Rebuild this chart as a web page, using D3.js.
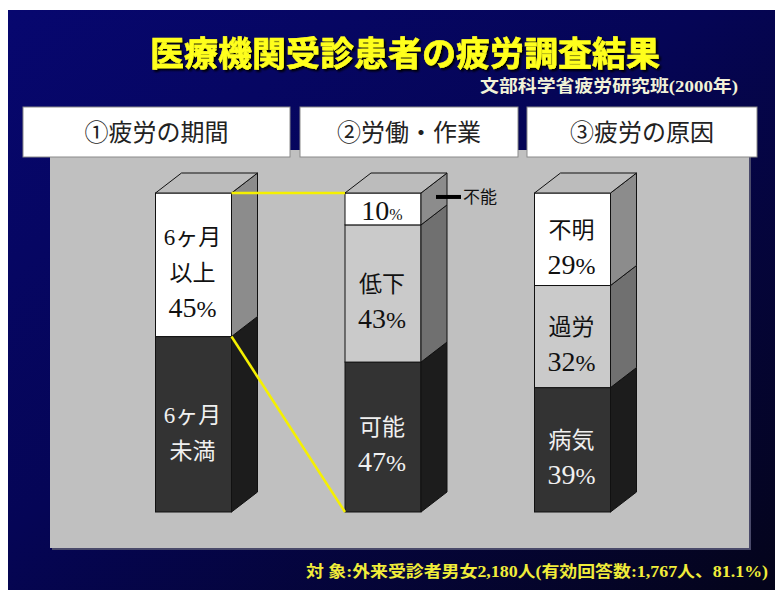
<!DOCTYPE html>
<html>
<head>
<meta charset="utf-8">
<script src="https://cdn.jsdelivr.net/npm/d3@7"></script>
<style>
  body { margin: 0; background: #fff; }
  svg { display: block; }
</style>
</head>
<body>
<div id="chart"></div>
<script>
var svgWidth = 775;
var svgHeight = 590;

// chart data
var categories = ["①疲労の期間", "②労働・作業", "③疲労の原因"];

var periodNames = ["6ヶ月未満", "6ヶ月以上"];
var periodValues = [55, 45];
var periodText = [["6ヶ月", "未満"], ["6ヶ月", "以上", "45%"]];

var workNames = ["可能", "低下", "不能"];
var workValues = [47, 43, 10];
var workText = [["可能", "47%"], ["低下", "43%"], ["10%"]];

var causeNames = ["病気", "過労", "不明"];
var causeValues = [39, 32, 29];
var causeText = [["病気", "39%"], ["過労", "32%"], ["不明", "29%"]];

var titleText = "医療機関受診患者の疲労調査結果";
var sourceText = "文部科学省疲労研究班(2000年)";
var footerText = "対 象:外来受診者男女2,180人(有効回答数:1,767人、81.1%)";

var bars = [
  { cat: categories[0], names: periodNames, values: periodValues, text: periodText },
  { cat: categories[1], names: workNames, values: workValues, text: workText },
  { cat: categories[2], names: causeNames, values: causeValues, text: causeText }
];

var svg = d3.select("#chart")
  .append("svg")
  .attr("width", svgWidth)
  .attr("height", svgHeight);

var defs = svg.append("defs");
var grad = defs.append("linearGradient")
  .attr("id", "bg")
  .attr("x1", 0).attr("y1", 0)
  .attr("x2", 1).attr("y2", 1);
grad.append("stop").attr("offset", "0%").attr("stop-color", "#07076f");
grad.append("stop").attr("offset", "45%").attr("stop-color", "#050556");
grad.append("stop").attr("offset", "100%").attr("stop-color", "#04041a");

// shadow for the title instead of a second text
defs.append("filter")
  .attr("id", "shadow")
  .attr("x", "-5%").attr("y", "-20%")
  .attr("width", "110%").attr("height", "140%")
  .append("feDropShadow")
  .attr("dx", 2).attr("dy", 2)
  .attr("stdDeviation", 0.8)
  .attr("flood-color", "#000")
  .attr("flood-opacity", 1);

// navy slide background
svg.append("rect")
  .attr("x", 8).attr("y", 10)
  .attr("width", svgWidth - 8).attr("height", svgHeight - 10)
  .attr("fill", "url(#bg)");

// title
svg.append("text")
  .attr("x", 405).attr("y", 66)
  .attr("text-anchor", "middle")
  .attr("filter", "url(#shadow)")
  .style("font-family", "'Noto Sans CJK JP'")
  .style("font-weight", 700)
  .style("font-size", "34px")
  .attr("fill", "#ffff1e")
  .attr("stroke", "#ffff1e")
  .attr("stroke-width", 0.6)
  .text(titleText);

svg.append("text")
  .attr("x", 738).attr("y", 92)
  .attr("text-anchor", "end")
  .attr("textLength", 258)
  .attr("lengthAdjust", "spacingAndGlyphs")
  .style("font-family", "'Liberation Serif', 'Noto Sans CJK JP'")
  .style("font-weight", 700)
  .style("font-size", "17px")
  .attr("fill", "#f2f2d8")
  .text(sourceText);

// gray plot panel
svg.append("rect")
  .attr("x", 52).attr("y", 152)
  .attr("width", 699).attr("height", 398)
  .attr("fill", "#4a4a6a");
svg.append("rect")
  .attr("x", 50).attr("y", 150)
  .attr("width", 699).attr("height", 398)
  .attr("fill", "#c0c0c0");

// header boxes
var boxes = [[23, 290], [300, 518], [527, 757]];
var headers = svg.append("g");
categories.forEach(function(c, i) {
  headers.append("rect")
    .attr("x", boxes[i][0]).attr("y", 107)
    .attr("width", boxes[i][1] - boxes[i][0]).attr("height", 50)
    .attr("fill", "#fff")
    .attr("stroke", "#8a8a8a")
    .attr("stroke-width", 1);
  headers.append("text")
    .attr("x", (boxes[i][0] + boxes[i][1]) / 2)
    .attr("y", 132)
    .attr("dy", "0.36em")
    .attr("text-anchor", "middle")
    .style("font-family", "'Noto Sans CJK JP'")
    .style("font-size", "24px")
    .attr("fill", "#222")
    .text(c);
});

// scales
var yScale = d3.scaleLinear()
  .domain([0, 100])
  .range([512, 193]);

var xScale = d3.scalePoint()
  .domain(categories)
  .range([193.5, 572.5]);

var barW = 76;
var depthX = 26;
var depthY = 20;

var frontFill = ["#333333", "#cacaca", "#ffffff"];
var sideFill = ["#1c1c1c", "#707070", "#8c8c8c"];
var textFill = ["#f0f0f0", "#111", "#111"];

function shade(i, n) {
  if (i === n - 1) return 2;
  if (i === 0) return 0;
  return 1;
}

var chartGroup = svg.append("g");

bars.forEach(function(b) {
  var xl = xScale(b.cat) - barW / 2;
  var xr = xl + barW;
  var cum = 0;
  var segs = b.values.map(function(v, i) {
    var s = { y0: yScale(cum), y1: yScale(cum + v), i: i, text: b.text[i] };
    cum += v;
    return s;
  });

  var g = chartGroup.append("g");

  g.selectAll("rect.front")
    .data(segs)
    .enter()
    .append("rect")
    .attr("class", "front")
    .attr("x", xl)
    .attr("y", d => d.y1)
    .attr("width", barW)
    .attr("height", d => d.y0 - d.y1)
    .attr("fill", d => frontFill[shade(d.i, segs.length)])
    .attr("stroke", "#111")
    .attr("stroke-width", 1);

  g.selectAll("polygon.side")
    .data(segs)
    .enter()
    .append("polygon")
    .attr("class", "side")
    .attr("points", d => [[xr, d.y1], [xr + depthX, d.y1 - depthY], [xr + depthX, d.y0 - depthY], [xr, d.y0]].join(" "))
    .attr("fill", d => sideFill[shade(d.i, segs.length)])
    .attr("stroke", "#111")
    .attr("stroke-width", 1);

  var top = yScale(cum);
  g.append("polygon")
    .attr("points", [[xl, top], [xl + depthX, top - depthY], [xr + depthX, top - depthY], [xr, top]].join(" "))
    .attr("fill", "#bcbcbc")
    .attr("stroke", "#111")
    .attr("stroke-width", 1);

  // segment labels
  segs.forEach(function(d) {
    var lines = d.text;
    var lh = 36;
    var mid = (d.y0 + d.y1) / 2 + 8;
    if (lines.length === 1) mid = (d.y0 + d.y1) / 2 + 3;
    lines.forEach(function(line, k) {
      var t = g.append("text")
        .attr("x", xScale(b.cat) - 1)
        .attr("y", mid + (k - (lines.length - 1) / 2) * lh)
        .attr("dy", "0.36em")
        .attr("text-anchor", "middle")
        .style("font-family", "'Liberation Serif', 'Noto Sans CJK JP'")
        .style("font-size", "23px")
        .attr("fill", textFill[shade(d.i, segs.length)]);
      if (line.slice(-1) === "%") {
        t.append("tspan").style("font-size", "28px").text(line.slice(0, -1));
        t.append("tspan").style("font-size", lines.length === 1 ? "16px" : "24px").text("%");
      } else {
        t.text(line);
      }
    });
  });
});

// yellow connector lines between bar 1 and bar 2
var b1r = xScale(categories[0]) + barW / 2;
var b2l = xScale(categories[1]) - barW / 2;
chartGroup.append("line")
  .attr("x1", b1r).attr("y1", yScale(100))
  .attr("x2", b2l).attr("y2", yScale(100))
  .attr("stroke", "#f5f000")
  .attr("stroke-width", 2.5);
chartGroup.append("line")
  .attr("x1", b1r).attr("y1", yScale(periodValues[0]))
  .attr("x2", b2l).attr("y2", yScale(0))
  .attr("stroke", "#f5f000")
  .attr("stroke-width", 2.5);

// "不能" callout beside the top segment of bar 2
var b2r = xScale(categories[1]) + barW / 2;
var topMid = yScale(100 - workValues[2] / 2) - 12;
chartGroup.append("line")
  .attr("x1", b2r + 15).attr("y1", topMid)
  .attr("x2", b2r + 40).attr("y2", topMid)
  .attr("stroke", "#000")
  .attr("stroke-width", 4);
chartGroup.append("text")
  .attr("x", b2r + 42).attr("y", topMid)
  .attr("dy", "0.36em")
  .style("font-family", "'Noto Sans CJK JP'")
  .style("font-size", "17px")
  .attr("fill", "#111")
  .text(workNames[2]);

// footer note
svg.append("text")
  .attr("x", 768).attr("y", 577)
  .attr("text-anchor", "end")
  .attr("textLength", 462)
  .attr("lengthAdjust", "spacingAndGlyphs")
  .style("font-family", "'Liberation Serif', 'Noto Sans CJK JP'")
  .style("font-weight", 700)
  .style("font-size", "16px")
  .attr("fill", "#f0ec3a")
  .text(footerText);
</script>
</body>
</html>
